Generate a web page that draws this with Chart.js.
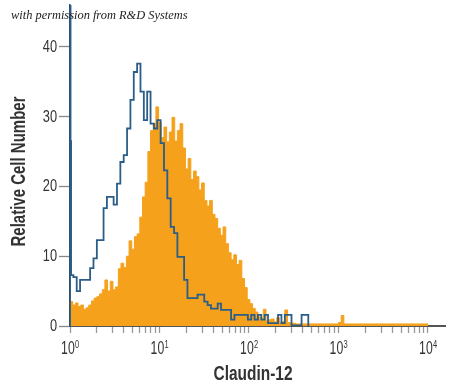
<!DOCTYPE html>
<html>
<head>
<meta charset="utf-8">
<script src="https://cdn.jsdelivr.net/npm/chart.js@4/dist/chart.umd.min.js"></script>
<style>
  html, body { margin: 0; padding: 0; background: #fff; }
  #wrap { position: relative; width: 450px; height: 390px; }
  #note { position: absolute; left: 11px; top: 8px; font: italic 12.4px "Liberation Serif", "DejaVu Serif", serif; color: #222; white-space: nowrap; }
</style>
</head>
<body>
<div id="wrap">
  <canvas id="flowChart" width="450" height="390" style="width:450px;height:390px"></canvas>
  <div id="note">with permission from R&amp;D Systems</div>
</div>
<script>
// histogram channels, x in decades of fluorescence (10^0 .. 10^4)
const orangeBin = 0.03;
const blueBin = 0.0375;

// Claudin-12 antibody (filled orange)
const orangeCounts = [
  3.5, 3.0, 3.3, 2.8, 3.0, 2.4, 2.6, 3.0, 3.6, 4.0,
  4.2, 4.6, 5.2, 6.6, 5.0, 6.4, 5.2, 5.6, 8.2, 9.0,
  8.4, 10.0, 12.2, 11.0, 12.8, 13.2, 15.6, 18.5, 20.6, 25.0,
  28.0, 29.0, 31.4, 29.2, 27.0, 28.5, 26.4, 27.8, 29.9, 26.5,
  28.0, 29.0, 25.5, 22.5, 24.0, 21.0, 22.2, 21.4, 19.5, 20.5,
  18.0, 17.2, 18.0, 16.0, 15.4, 14.0, 13.0, 14.2, 11.8, 10.5,
  9.5, 10.2, 8.8, 9.4, 6.8, 5.5, 3.8, 3.2, 2.5, 2.0,
  1.3, 1.1, 2.4, 0.7, 0.9, 1.0, 0.6, 1.2, 0.5, 0.6,
  2.3, 0.5, 0.4, 0.4, 0.3, 0.3, 0.3, 0.3, 0.3, 0.3,
  0.3, 0.3, 0.3, 0.3, 0.3, 0.3, 0.3, 0.3, 0.3, 0.3,
  0.5, 1.5, 0.3, 0.3, 0.3, 0.3, 0.3, 0.3, 0.3, 0.3,
  0.3, 0.3, 0.3, 0.3, 0.3, 0.3, 0.3, 0.3, 0.3, 0.3,
  0.3, 0.3, 0.3, 0.3, 0.3, 0.3, 0.3, 0.3, 0.3, 0.3,
  0.3, 0.3, 0.3, 0.3
];

// isotype control (blue outline); first two channels pile up on the axis
const blueEdgeChannels = [60, 26.5];
const blueCounts = [
  7.3, 7.0, 5.0, 6.6, 6.6, 6.6, 8.3, 9.7, 12.3, 12.3,
  16.9, 18.5, 18.5, 17.4, 20.4, 23.5, 24.5, 28.3, 32.4, 36.4,
  37.6, 33.6, 29.5, 33.6, 29.0, 28.3, 29.5, 26.2, 22.3, 18.3,
  14.2, 13.3, 9.9, 9.9, 6.6, 4.0, 4.0, 4.0, 4.5, 4.5,
  3.5, 3.0, 2.5, 2.5, 3.2, 2.3, 2.3, 2.3, 0.9, 1.6,
  1.6, 1.6, 1.6, 0.9, 1.6, 0.9, 1.6, 0.9, 1.6, 0.4,
  0.4, 0.4, 1.6, 0.4, 1.6, 1.6, 0.1, 0.1, 0.1, 1.6,
  1.6
];

const xDecades = [0, 1, 2, 3, 4];
const yTicks = [0, 10, 20, 30, 40];
const xTitle = 'Claudin-12';
const yTitle = 'Relative Cell Number';

const sans = '"Liberation Sans", Arial, sans-serif';

// step points: each point opens its channel
const orangePoints = orangeCounts.map((v, i) => ({ x: i * orangeBin, y: v }));
orangePoints.push({ x: 4, y: orangeCounts[orangeCounts.length - 1] });

const bluePoints = [{ x: 0, y: 0 }, { x: 0, y: blueEdgeChannels[0] }, { x: 0.006, y: blueEdgeChannels[1] }, { x: 0.012, y: blueCounts[0] }];
for (let i = 1; i < blueCounts.length; i++) bluePoints.push({ x: i * blueBin, y: blueCounts[i] });
bluePoints.push({ x: blueCounts.length * blueBin, y: 0 });

// narrow text: plain fillText squeezed horizontally
function squeezed(ctx, text, x, y, sx, angle) {
  ctx.save();
  ctx.translate(x, y);
  if (angle) ctx.rotate(angle);
  ctx.scale(sx, 1);
  ctx.fillText(text, 0, 0);
  ctx.restore();
}

const axisText = {
  id: 'axisText',
  afterDraw(chart) {
    const ctx = chart.ctx;
    const xs = chart.scales.x, ys = chart.scales.y;
    const area = chart.chartArea;
    ctx.save();
    ctx.fillStyle = '#333';

    // y tick labels
    ctx.font = '16px ' + sans;
    ctx.textAlign = 'right';
    ctx.textBaseline = 'middle';
    yTicks.forEach(v => squeezed(ctx, String(v), area.left - 13, ys.getPixelForValue(v) + 0.5, 0.8));

    // x tick labels 10^n
    ctx.textAlign = 'left';
    ctx.textBaseline = 'alphabetic';
    xDecades.forEach(d => {
      const px = xs.getPixelForValue(d);
      ctx.font = '18px ' + sans;
      const w1 = ctx.measureText('10').width * 0.68;
      ctx.font = '10px ' + sans;
      const w2 = ctx.measureText(String(d)).width * 0.75;
      const x0 = px - (w1 + w2) / 2;
      ctx.font = '18px ' + sans;
      squeezed(ctx, '10', x0, area.bottom + 28, 0.68);
      ctx.font = '10px ' + sans;
      squeezed(ctx, String(d), x0 + w1 + 0.3, area.bottom + 22, 0.75);
    });

    // axis titles
    ctx.font = 'bold 21px ' + sans;
    ctx.textAlign = 'center';
    let w = ctx.measureText(xTitle).width;
    squeezed(ctx, xTitle, xs.getPixelForValue(2) + 4, area.bottom + 54, 79 / w);

    ctx.font = 'bold 20px ' + sans;
    w = ctx.measureText(yTitle).width;
    squeezed(ctx, yTitle, 25, (area.top + area.bottom) / 2 + 6, 150 / w, -Math.PI / 2);
    ctx.restore();
  }
};

const data = {
  datasets: [{
    label: 'Isotype control',
    data: bluePoints,
    stepped: true,
    borderColor: '#2a5d88',
    borderWidth: 1.8,
    pointRadius: 0,
    fill: false
  }, {
    label: 'Claudin-12',
    data: orangePoints,
    stepped: true,
    borderColor: '#f5a11c',
    backgroundColor: '#f5a11c',
    borderWidth: 1,
    pointRadius: 0,
    fill: 'origin'
  }]
};

const config = {
  type: 'line',
  data,
  options: {
    responsive: false,
    animation: false,
    layout: { padding: { top: 5, right: 5, left: 0, bottom: 0 } },
    plugins: {
      legend: { display: false },
      tooltip: { enabled: false }
    },
    scales: {
      x: {
        type: 'linear',
        min: 0,
        max: 4.19,
        afterBuildTicks: (scale) => {
          const t = [];
          for (let d = 0; d < 4; d++) {
            for (let k = 1; k < 10; k++) t.push({ value: d + Math.log10(k) });
          }
          t.push({ value: 4 });
          scale.ticks = t;
        },
        afterFit: (scale) => { scale.height = 64; },
        ticks: { display: false, autoSkip: false },
        grid: { drawOnChartArea: false, tickLength: 7, tickColor: '#999', tickWidth: 1.3 },
        border: { display: true, color: '#555', width: 2 }
      },
      y: {
        min: 0,
        max: 46,
        afterBuildTicks: (scale) => { scale.ticks = yTicks.map(v => ({ value: v })); },
        afterFit: (scale) => { scale.width = 70; },
        ticks: { display: false },
        grid: { drawOnChartArea: false, tickLength: 11, tickColor: '#888', tickWidth: 1.3 },
        border: { display: true, color: '#2c5070', width: 1.5 }
      }
    }
  },
  plugins: [axisText]
};

const flowChart = new Chart(document.getElementById('flowChart'), config);
</script>
</body>
</html>
